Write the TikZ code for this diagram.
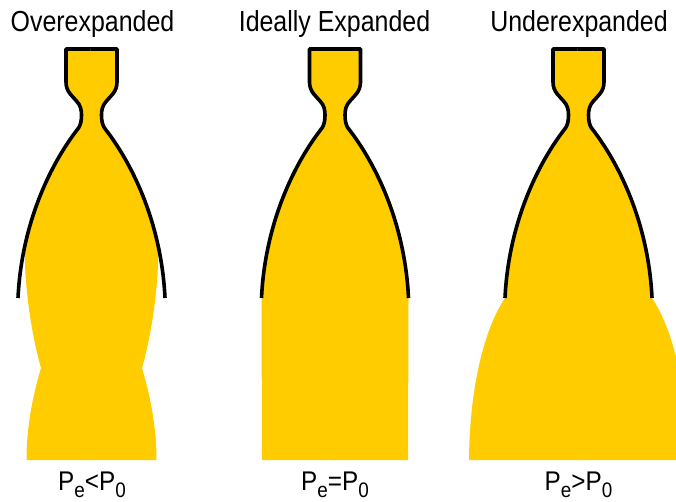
\documentclass[tikz,border=0pt]{standalone}
\usepackage{fontspec}
\setmainfont{Liberation Sans}
\definecolor{exhaust}{HTML}{FFCC00}

% left half of a nozzle wall, in px around the nozzle axis (y grows downwards);
% the bell is one cubic, split where the overexpanded plume leaves the wall
\def\nozupper{(1,49) -- (-25.5,49) -- (-25.5,82)
  .. controls (-25.5,92) and (-19,96) .. (-15,101)
  .. controls (-11,105) and (-10,110) .. (-10,115)
  .. controls (-10,121) and (-11,125) .. (-13,128)
  .. controls (-34.75,155.75) and (-55.94,196.44) .. (-66.65,245.84)}
\def\nozlower{.. controls (-70.22,262.31) and (-72.63,279.75) .. (-73.5,298)}

% condition label: P_e <rel> P_0 with large, low subscripts
\newcommand\psub[1]{\raisebox{-7pt}{\fontsize{21}{21}\selectfont #1}}
\newcommand\cond[1]{\scalebox{0.9}[1]{P\psub{e}#1P\psub{0}}}
\newcommand\headline[1]{\scalebox{0.86}[1]{#1}}

\begin{document}
\begin{tikzpicture}[x=1pt,y=-1pt,
  wall/.style={line width=3.6pt, line join=round},
  gas/.style={fill=exhaust},
  title/.style={font=\fontsize{29}{29}\selectfont, anchor=base, inner sep=0pt},
  condition/.style={font=\fontsize{27}{27}\selectfont, anchor=base, inner sep=0pt}]
\useasboundingbox (0,0) rectangle (676,501);
\clip (0,0) rectangle (676,501);

% overexpanded: plume pinches in below the exit
\foreach \sx in {1,-1}{
  \begin{scope}[shift={(91.5,0)}, xscale=\sx]
    \fill[gas] \nozupper
      .. controls (-67.5,285) and (-60,335) .. (-50.5,368)
      .. controls (-60,400) and (-65,430) .. (-65,460) -- (1,460) -- cycle;
  \end{scope}
  \begin{scope}[shift={(91.5,0)}, xscale=\sx]
    \draw[wall] \nozupper \nozlower;
  \end{scope}
}

% ideally expanded: straight plume
\foreach \sx in {1,-1}{
  \begin{scope}[shift={(335,0)}, xscale=\sx]
    \fill[gas] \nozupper \nozlower -- (-73,460) -- (1,460) -- cycle;
  \end{scope}
  \begin{scope}[shift={(335,0)}, xscale=\sx]
    \draw[wall] \nozupper \nozlower;
  \end{scope}
}

% underexpanded: plume spreads out past the exit
\foreach \sx in {1,-1}{
  \begin{scope}[shift={(578.5,0)}, xscale=\sx]
    \fill[gas] \nozupper \nozlower
      .. controls (-95,330) and (-109,390) .. (-109.5,460) -- (1,460) -- cycle;
  \end{scope}
  \begin{scope}[shift={(578.5,0)}, xscale=\sx]
    \draw[wall] \nozupper \nozlower;
  \end{scope}
}

\node[title] (t1) at (92.5,31) {\headline{Overexpanded}};
\node[title] (t2) at (334.5,31) {\headline{Ideally Expanded}};
\node[title] (t3) at (579,31) {\headline{Underexpanded}};

\node[condition] (c1) at (92,490) {\cond{<}};
\node[condition] (c2) at (335,490) {\cond{=}};
\node[condition] (c3) at (578.5,490) {\cond{>}};
\end{tikzpicture}
\end{document}
